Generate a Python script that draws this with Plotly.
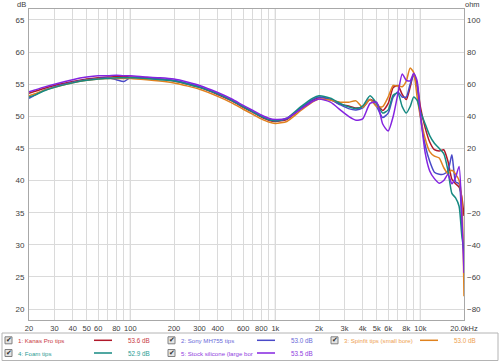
import plotly.graph_objects as go

# ---------------- data ----------------
freq = [20, 22, 25, 30, 40, 50, 60, 70, 80, 90, 100, 130, 160, 200, 250, 300, 400, 500, 600, 700,
        800, 900, 1000, 1200, 1500, 1800, 2000, 2400, 2800, 3200, 3600, 4000, 4500, 5000, 5500,
        6000, 6500, 7000, 7500, 8000, 8500, 9000, 9500, 10000, 10800, 11600, 12500, 13500, 14500,
        15500, 16500, 17500, 18500, 19300, 20000]

kanas = [53.6, 53.9, 54.3, 54.8, 55.4, 55.8, 56.0, 56.1, 56.2, 56.2, 56.1, 56.0, 55.8, 55.5, 55.0,
         54.5, 53.4, 52.4, 51.4, 50.6, 49.9, 49.4, 49.2, 49.5, 51.2, 52.5, 52.9, 52.6, 51.9, 51.6,
         51.3, 51.5, 52.6, 52.0, 50.9, 52.0, 54.5, 54.8, 53.4, 52.6, 54.5, 56.7, 55.0, 51.5, 48.2,
         46.0, 44.8, 44.6, 44.8, 43.0, 40.2, 39.5, 39.0, 37.5, 34.5]

sony = [52.8, 53.3, 54.0, 54.6, 55.3, 55.7, 55.9, 56.0, 55.7, 55.4, 56.0, 55.9, 55.8, 55.6, 55.1,
        54.6, 53.5, 52.5, 51.5, 50.7, 50.0, 49.5, 49.3, 49.6, 51.3, 52.6, 53.0, 52.6, 51.8, 51.2,
        51.0, 51.3, 52.6, 51.5, 49.8, 50.5, 53.0, 53.8, 53.0, 53.0, 55.0, 56.3, 54.5, 50.0, 45.5,
        43.0, 41.3, 41.0, 41.0, 41.5, 44.0, 39.8, 39.5, 33.0, 28.0]

spinfit = [53.2, 53.5, 54.0, 54.5, 55.2, 55.6, 55.8, 55.9, 55.9, 55.9, 55.9, 55.7, 55.5, 55.2, 54.7,
           54.2, 53.1, 52.1, 51.1, 50.3, 49.6, 49.1, 48.9, 49.2, 50.9, 52.2, 52.7, 52.5, 52.2, 52.2,
           52.4, 51.4, 52.6, 51.5, 51.5, 53.0, 54.8, 54.7, 54.6, 55.5, 57.5, 56.8, 53.0, 50.0, 46.5,
           44.5, 43.8, 43.5, 42.0, 41.1, 41.6, 41.0, 40.0, 37.0, 22.0]

foam = [53.0, 53.3, 53.9, 54.5, 55.2, 55.6, 55.8, 55.9, 56.0, 56.0, 56.0, 55.9, 55.7, 55.5, 55.0,
        54.5, 53.5, 52.5, 51.5, 50.7, 50.0, 49.5, 49.3, 49.7, 51.5, 52.8, 53.2, 52.8, 52.0, 51.5,
        51.2, 51.6, 53.2, 52.0, 50.5, 51.0, 53.3, 53.6, 51.5, 50.5, 51.5, 53.0, 52.5, 50.8, 48.8,
        47.0, 45.8, 45.0, 44.2, 41.6, 38.0, 37.3, 36.0, 31.5, 29.0]

stock = [53.8, 54.1, 54.5, 55.0, 55.7, 56.1, 56.3, 56.3, 56.4, 56.3, 56.3, 56.1, 56.0, 55.8, 55.3,
         54.8, 53.7, 52.7, 51.7, 50.9, 50.2, 49.7, 49.5, 49.7, 51.1, 52.3, 52.7, 52.2, 51.0, 50.0,
         49.4, 49.6, 52.0, 52.2, 48.8, 47.7, 50.0, 53.5, 56.6, 55.6, 55.5, 56.7, 55.5, 50.5, 44.3,
         41.5, 40.3, 39.6, 40.0, 41.0, 39.5, 40.5, 42.2, 35.0, 25.6]

series_names = ["1: Kanas Pro tips", "2: Sony MH755 tips", "3: Spinfit tips (small bore)",
                "4: Foam tips", "5: Stock silicone (large bor"]
series_levels = ["53.6 dB", "53.0 dB", "53.0 dB", "52.9 dB", "53.5 dB"]
line_colors = ["#b0182a", "#4a4ac8", "#e0821e", "#168a82", "#8424e0"]
text_colors = ["#c83a44", "#6a6ad8", "#eea050", "#2a9c94", "#9040e0"]

x_tickvals = [20, 30, 40, 50, 60, 70, 80, 90, 100, 200, 300, 400, 500, 600, 700, 800, 900,
              1000, 2000, 3000, 4000, 5000, 6000, 7000, 8000, 9000, 10000, 20000]
x_ticktext = ["20", "30", "40", "50", "60", "", "80", "", "100", "200", "300", "400", "", "600",
              "", "800", "", "1k", "2k", "3k", "4k", "5k", "6k", "", "8k", "", "10k", "20.0kHz"]
decades = [100, 1000, 10000]
db_ticks = [20, 25, 30, 35, 40, 45, 50, 55, 60, 65]
ohm_ticks = [-80, -60, -40, -20, 0, 20, 40, 60, 80, 100]
db_range = [18.3, 66.7]
ohm_range = [(db_range[0] - 40) * 4, (db_range[1] - 40) * 4]

# ---------------- figure ----------------
W, H = 500, 361
L, R, T, B = 29, 36, 9, 41
PW, PH = W - L - R, H - T - B


def px(x):
    return (x - L) / PW


def py(y):
    return (H - B - y) / PH


fig = go.Figure()
data = [kanas, sony, spinfit, foam, stock]
for vals, name, col in zip(data, series_names, line_colors):
    fig.add_trace(go.Scatter(x=freq, y=vals, mode="lines", name=name,
                             line=dict(color=col, width=1.5, shape="spline", smoothing=0.6),
                             showlegend=False, hoverinfo="skip"))

# invisible companion trace so the right-hand (ohm) axis is drawn
fig.add_trace(go.Scatter(x=freq, y=[(v - 40) * 4 for v in kanas], yaxis="y2", mode="lines",
                         line=dict(color="rgba(0,0,0,0)", width=0), showlegend=False,
                         hoverinfo="skip"))

font = "Liberation Sans, Arial, sans-serif"
fig.update_layout(
    width=W, height=H,
    margin=dict(l=L, r=R, t=T, b=B, autoexpand=False),
    paper_bgcolor="white", plot_bgcolor="white",
    font=dict(family=font, size=8, color="#404040"),
    xaxis=dict(type="log", range=[1.30103, 4.30103], tickvals=x_tickvals, ticktext=x_ticktext,
               showgrid=True, gridcolor="#dadada", gridwidth=1, zeroline=False,
               showline=True, linecolor="#a8a8a8", mirror=True, ticks="",
               tickfont=dict(size=7.5, color="#404040"), ticklabelstandoff=1),
    yaxis=dict(range=db_range, tickvals=db_ticks, showgrid=True, gridcolor="#dadada",
               zeroline=False, showline=True, linecolor="#a8a8a8", mirror=True, ticks="",
               tickfont=dict(size=8, color="#404040"), ticklabelstandoff=2),
    yaxis2=dict(range=ohm_range, tickvals=ohm_ticks, overlaying="y", side="right",
                showgrid=False, zeroline=False, ticks="", tickfont=dict(size=8, color="#404040"),
                ticklabelstandoff=2, showline=False),
)

shapes = []
for d in decades:
    shapes.append(dict(type="line", xref="x", yref="paper", x0=d, x1=d, y0=0, y1=1,
                       line=dict(color="#a4a4a4", width=1), layer="below"))

annotations = [
    dict(text="dB", x=px(21), y=py(4.5), xref="paper", yref="paper", showarrow=False,
         xanchor="center", yanchor="middle", font=dict(size=7.5, color="#404040")),
    dict(text="ohm", x=px(472), y=py(4.5), xref="paper", yref="paper", showarrow=False,
         xanchor="center", yanchor="middle", font=dict(size=7.5, color="#404040")),
]

# legend box
shapes.append(dict(type="rect", xref="paper", yref="paper", x0=px(2), x1=px(498),
                   y0=py(360.5), y1=py(333), line=dict(color="#b4b4b4", width=1),
                   fillcolor="white"))

col_x = [5, 168, 331]
row_y = [340.3, 353]
for i in range(5):
    cx = col_x[i % 3] if i < 3 else col_x[i - 3]
    ry = row_y[0] if i < 3 else row_y[1]
    shapes.append(dict(type="rect", xref="paper", yref="paper", x0=px(cx), x1=px(cx + 7),
                       y0=py(ry + 3.5), y1=py(ry - 3.5), line=dict(color="#808080", width=1),
                       fillcolor="#e4e4e4"))
    annotations.append(dict(text="✔", x=px(cx + 3.8), y=py(ry), xref="paper", yref="paper",
                            showarrow=False, xanchor="center", yanchor="middle",
                            font=dict(size=7, color="#303030", family="DejaVu Sans")))
    annotations.append(dict(text=series_names[i], x=px(cx + 11), y=py(ry), xref="paper",
                            yref="paper", showarrow=False, xanchor="left", yanchor="middle",
                            font=dict(size=6.1, color=text_colors[i])))
    shapes.append(dict(type="line", xref="paper", yref="paper", x0=px(cx + 89), x1=px(cx + 107),
                       y0=py(ry), y1=py(ry), line=dict(color=line_colors[i], width=1.5)))
    annotations.append(dict(text=series_levels[i], x=px(cx + 121), y=py(ry), xref="paper",
                            yref="paper", showarrow=False, xanchor="left", yanchor="middle",
                            font=dict(size=6.3, color=text_colors[i])))

fig.update_layout(shapes=shapes, annotations=annotations)
fig.write_html("out.html", config={"displayModeBar": False},
               post_script="document.body.style.margin='0';document.body.style.padding='0';")
